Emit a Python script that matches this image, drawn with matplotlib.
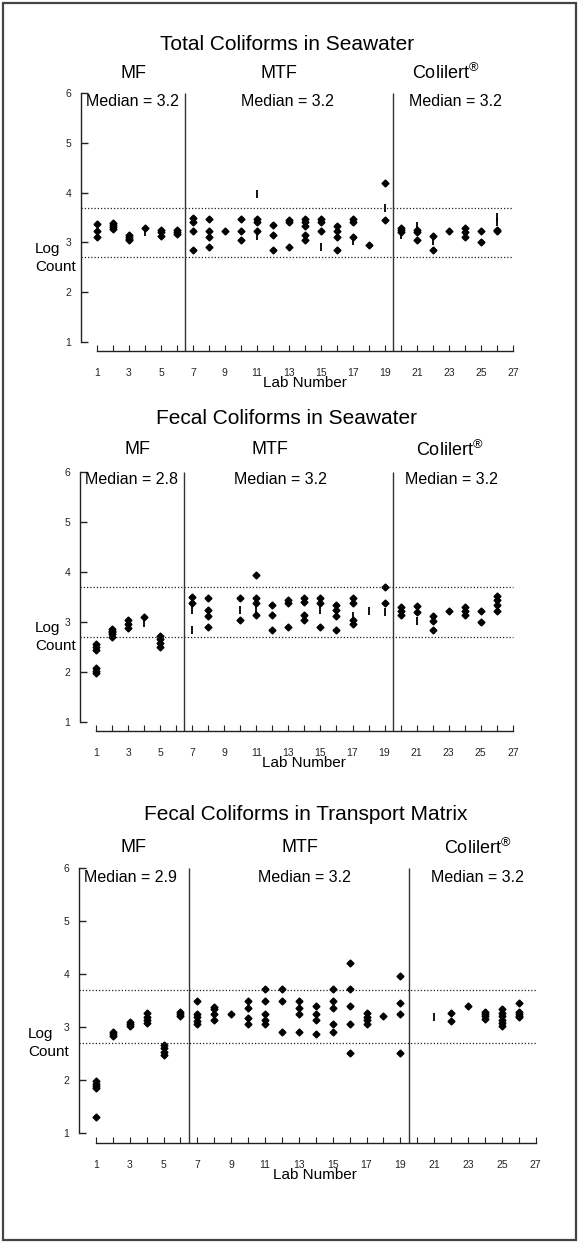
import matplotlib
matplotlib.use("Agg")
import matplotlib.pyplot as plt
import matplotlib.patches as mpatches

plt.rcParams['font.family'] = ['Liberation Sans', 'DejaVu Sans']
plt.rcParams['mathtext.fontset'] = 'custom'
plt.rcParams['mathtext.rm'] = 'Liberation Sans'

W, H = 578, 1243

labs = list(range(1, 27))
odd_ticks = list(range(1, 28, 2))
y_ticks = [1, 2, 3, 4, 5, 6]
limits = [2.7, 3.7]
group_names = ["MF", "MTF", "Colilert$^{\\mathrm{®}}$"]
group_breaks = [6.5, 19.5]

# Total coliforms in seawater (diamonds = replicate counts, bars = other marks)
total_sea_pts = [
    [3.36, 3.23, 3.11], [3.38, 3.34, 3.30, 3.27], [3.15, 3.10, 3.06, 3.04], [3.29],
    [3.25, 3.21, 3.12], [3.24, 3.20, 3.17], [3.49, 3.40, 3.23, 2.85], [3.48, 3.23, 3.11, 2.90],
    [3.23], [3.48, 3.23, 3.05], [3.48, 3.40, 3.23], [3.35, 3.15, 2.85],
    [3.45, 3.41, 2.90], [3.48, 3.40, 3.33, 3.15, 3.05], [3.48, 3.40, 3.23], [3.33, 3.23, 3.11, 2.85],
    [3.48, 3.40, 3.11], [2.95], [4.20, 3.45], [3.28, 3.24, 3.21],
    [3.25, 3.20, 3.04], [3.12, 2.85], [3.23], [3.28, 3.20, 3.11],
    [3.23, 3.00], [3.23, 3.25],
]
total_sea_bars = [
    [], [], [], [3.20], [], [], [], [], [], [], [3.97, 3.13], [], [], [], [2.90], [],
    [3.03], [], [3.70], [3.14], [3.33], [3.02], [], [], [], [3.52, 3.40],
]
total_sea_medians = [3.2, 3.2, 3.2]

# Fecal coliforms in seawater
fecal_sea_pts = [
    [2.56, 2.50, 2.45, 2.08, 2.03, 1.99], [2.87, 2.83, 2.80, 2.76, 2.71], [3.04, 2.97, 2.89], [3.11],
    [2.73, 2.66, 2.59, 2.50], [], [3.50, 3.39], [3.49, 3.24, 3.13, 2.91],
    [], [3.49, 3.04], [3.95, 3.49, 3.39, 3.15], [3.34, 3.14, 2.84],
    [3.44, 3.39, 2.91], [3.49, 3.40, 3.14, 3.05], [3.49, 3.39, 2.91], [3.35, 3.25, 3.13, 2.84],
    [3.48, 3.39, 3.05, 2.97], [], [3.70, 3.39], [3.30, 3.23, 3.15],
    [3.32, 3.20], [3.13, 3.03, 2.85], [3.23], [3.30, 3.23, 3.15],
    [3.23, 3.00], [3.53, 3.45, 3.35, 3.23],
]
fecal_sea_bars = [
    [], [], [], [2.99], [], [], [3.24, 2.85], [], [], [3.24], [3.27], [], [], [], [3.24], [],
    [3.13], [3.23], [3.21], [], [3.03], [], [], [], [], [],
]
fecal_sea_medians = [2.8, 3.2, 3.2]

# Fecal coliforms in transport matrix
fecal_tm_pts = [
    [1.98, 1.93, 1.88, 1.84, 1.31], [2.90, 2.86, 2.82], [3.10, 3.05, 3.01], [3.26, 3.19, 3.13, 3.08],
    [2.66, 2.60, 2.53, 2.48], [3.29, 3.25, 3.20], [3.49, 3.25, 3.18, 3.12, 3.06], [3.38, 3.33, 3.24, 3.13],
    [3.25], [3.49, 3.36, 3.16, 3.06], [3.72, 3.49, 3.25, 3.13, 3.06], [3.72, 3.49, 2.91],
    [3.49, 3.36, 3.25, 2.91], [3.40, 3.25, 3.13, 2.86], [3.72, 3.49, 3.36, 3.06, 2.91],
    [4.21, 3.72, 3.40, 3.06, 2.50], [3.26, 3.19, 3.13, 3.05], [3.21], [3.96, 3.46, 3.25, 2.50], [],
    [], [3.26, 3.12], [3.40], [3.29, 3.24, 3.20, 3.15],
    [3.33, 3.27, 3.21, 3.14, 3.08, 3.02], [3.46, 3.29, 3.25, 3.21, 3.18],
]
fecal_tm_bars = [
    [], [], [], [], [], [], [], [], [], [], [], [], [], [], [], [], [], [], [], [],
    [3.19], [], [], [], [], [],
]
fecal_tm_medians = [2.9, 3.2, 3.2]


def fx(x):
    return x / W


def fy(y):
    return 1 - y / H


def draw_panel(fig, box, ymin, title, pts, bars, medians, text_y, title_x, group_x, median_x, log_x):
    left, top, right, bottom = box
    ax = fig.add_axes([fx(left), fy(bottom), (right - left) / W, (bottom - top) / H])
    ax.set_xlim(0, 27.2)
    ax.set_ylim(ymin, 6)

    for lab, vals in zip(labs, pts):
        ax.plot([lab] * len(vals), vals, linestyle='none', marker='D', ms=3.5,
                color='black', mec='black', clip_on=False)
    for lab, vals in zip(labs, bars):
        ax.plot([lab] * len(vals), vals, linestyle='none', marker='|', ms=5.5,
                mew=1.3, color='black', clip_on=False)

    ax.hlines(limits, 0, 27, colors='#222222', linestyles=(0, (1, 1.6)), lw=0.9)
    ax.vlines(group_breaks, ymin, 6, colors='#333333', lw=1.0)

    for side in ['top', 'right']:
        ax.spines[side].set_visible(False)
    ax.spines['left'].set_bounds(1, 6)
    ax.spines['bottom'].set_bounds(1, 27)
    for side in ['left', 'bottom']:
        ax.spines[side].set_color('#222222')
        ax.spines[side].set_linewidth(1.0)

    ax.set_yticks(y_ticks)
    ax.set_yticklabels([str(v) for v in y_ticks], fontsize=7.5)
    ax.set_xticks(list(range(1, 28)))
    ax.set_xticklabels([str(v) if v in odd_ticks else '' for v in range(1, 28)], fontsize=7.5)
    ax.tick_params(axis='y', direction='in', length=5, width=1, pad=7, colors='#222222')
    ax.tick_params(axis='x', direction='in', length=4, width=0.8, pad=12, colors='#222222')

    # texts above the plot
    title_y, group_y, med_y = text_y
    fig.text(fx(title_x), fy(title_y), title, fontsize=15, ha='center', va='center')
    for name, gx in zip(group_names, group_x):
        fig.text(fx(gx), fy(group_y), name, fontsize=13, ha='center', va='center')
    fig.text(fx(median_x[0]), fy(med_y), f"Median = {medians[0]}", fontsize=11.5, ha='left', va='center')
    for m, mx in zip(medians[1:], median_x[1:]):
        fig.text(fx(mx), fy(med_y), f"Median = {m}", fontsize=11.5, ha='center', va='center')

    # y label as two separate lines, "Log" beside the 3 tick label
    label_y = top + (bottom - top) * 0.60
    fig.text(fx(log_x), fy(label_y + 1), "Log", fontsize=11, ha='left', va='center')
    fig.text(fx(log_x), fy(label_y + 19), "Count", fontsize=11, ha='left', va='center')
    fig.text(fx((left + right) / 2 + 6), fy(bottom + 32), "Lab Number", fontsize=11,
             ha='center', va='center')
    return ax


fig = plt.figure(figsize=(W / 100, H / 100), dpi=100)

draw_panel(fig, (81, 93, 516, 351), 0.82, "Total Coliforms in Seawater",
           total_sea_pts, total_sea_bars, total_sea_medians,
           (45, 73, 102), 287, (134, 279, 446), (86, 287, 455), 35)
draw_panel(fig, (80, 472, 516, 731), 0.82, "Fecal Coliforms in Seawater",
           fecal_sea_pts, fecal_sea_bars, fecal_sea_medians,
           (418, 450, 480), 287, (137, 270, 450), (85, 280, 451), 35)
draw_panel(fig, (79, 868, 539, 1143), 0.81, "Fecal Coliforms in Transport Matrix",
           fecal_tm_pts, fecal_tm_bars, fecal_tm_medians,
           (815, 848, 878), 306, (134, 300, 478), (84, 304, 477), 28)

fig.patches.append(mpatches.Rectangle((fx(3), fy(1240)), (573) / W, 1237 / H,
                                      transform=fig.transFigure, fill=False,
                                      edgecolor='#444444', lw=1.6))

fig.savefig("out.png", dpi=100)
